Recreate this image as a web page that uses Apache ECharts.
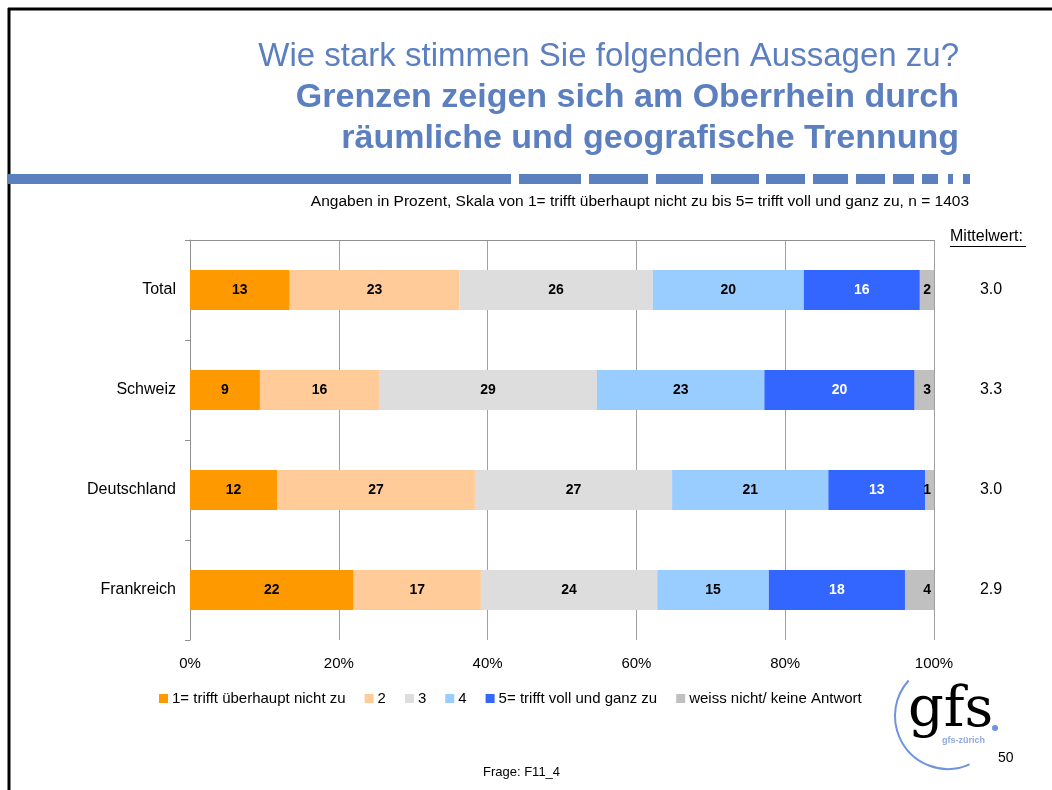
<!DOCTYPE html>
<html>
<head>
<meta charset="utf-8">
<script src="https://cdn.jsdelivr.net/npm/echarts@6/dist/echarts.min.js"></script>
<style>
  html, body { margin: 0; padding: 0; background: #fff; }
  #chart { width: 1052px; height: 790px; }
</style>
</head>
<body>
<div id="chart"></div>
<script>
// Daten
const laender = ["Total", "Schweiz", "Deutschland", "Frankreich"]
const stufen = ["1= trifft überhaupt nicht zu", "2", "3", "4", "5= trifft voll und ganz zu", "weiss nicht/ keine Antwort"]
const wert1 = [13.4, 9.4, 11.7, 22.0]
const wert2 = [22.8, 16.0, 26.6, 17.1]
const wert3 = [26.0, 29.3, 26.5, 23.7]
const wert4 = [20.3, 22.5, 21.0, 15.0]
const wert5 = [15.6, 20.2, 13.0, 18.3]
const weissNicht = [1.9, 2.6, 1.2, 3.9]
const mittelwert = ["3.0", "3.3", "3.0", "2.9"]
const xTicks = [0, 20, 40, 60, 80, 100]

const farben = ["#FF9900", "#FFCC99", "#DDDDDD", "#99CCFF", "#3366FF", "#C0C0C0"]
const werte = [wert1, wert2, wert3, wert4, wert5, weissNicht]

var myChart = echarts.init(document.getElementById("chart"))

const titelFarbe = "#5B7FBF"
const schrift = '"Liberation Sans", Arial, sans-serif'

// gestrichelte Linie unter dem Titel
const striche = [[8, 511], [519, 581], [589, 648], [656, 703], [711, 759], [766, 805], [813, 848], [856, 885], [893, 914], [922, 938], [948, 953], [963, 970]]
const strichGrafik = striche.map((s) => ({
  type: "rect",
  shape: { x: s[0], y: 174, width: s[1] - s[0], height: 10 },
  style: { fill: titelFarbe }
}))

let option = {
  animation: false,
  textStyle: { fontFamily: schrift },
  grid: { left: 190, right: 118, top: 240, bottom: 150 },
  legend: {
    left: 154,
    top: 686,
    itemWidth: 9,
    itemHeight: 9,
    itemGap: 19,
    icon: "rect",
    textStyle: { fontSize: 15, color: "#000", padding: [0, 0, 0, -1] },
    data: stufen
  },
  xAxis: [
    {
      type: "value",
      min: 0,
      max: 100,
      interval: 20,
      position: "bottom",
      axisLine: { show: false },
      axisTick: { show: false },
      splitLine: { show: true, lineStyle: { color: "#A0A0A0", width: 1 } },
      axisLabel: {
        fontSize: 15,
        color: "#000",
        margin: 16,
        formatter: (v) => (xTicks.includes(v) ? v + "%" : "")
      }
    },
    {
      type: "value",
      min: 0,
      max: 100,
      position: "top",
      axisLine: { show: true, onZero: false, lineStyle: { color: "#909090" } },
      axisTick: { show: false },
      axisLabel: { show: false },
      splitLine: { show: false }
    }
  ],
  yAxis: [
    {
      type: "category",
      data: laender,
      inverse: true,
      axisLine: { show: true, lineStyle: { color: "#909090" } },
      axisTick: { show: true, length: 5, lineStyle: { color: "#909090" } },
      axisLabel: { fontSize: 16, color: "#000", margin: 14 }
    },
    {
      type: "category",
      data: mittelwert,
      inverse: true,
      position: "right",
      axisLine: { show: false },
      axisTick: { show: false },
      axisLabel: { fontSize: 16, color: "#000", margin: 57, align: "center" }
    }
  ],
  series: stufen.map((name, i) => ({
    name: name,
    type: "bar",
    stack: "total",
    barWidth: 40,
    data: werte[i],
    itemStyle: { color: farben[i] },
    label: {
      show: true,
      position: i === 5 ? "insideRight" : "inside",
      offset: i === 5 ? [2, 0] : [0, 0],
      fontSize: 14,
      fontWeight: "bold",
      color: i === 4 ? "#fff" : "#000",
      formatter: (p) => Math.round(p.value)
    }
  })),
  graphic: [
    // Rahmen
    { type: "line", shape: { x1: 8, y1: 9, x2: 1052, y2: 9 }, style: { stroke: "#000", lineWidth: 3 } },
    { type: "line", shape: { x1: 9, y1: 8, x2: 9, y2: 790 }, style: { stroke: "#000", lineWidth: 3 } },
    // Titel
    {
      type: "text", right: 1052 - 959, top: 40,
      style: { text: "Wie stark stimmen Sie folgenden Aussagen zu?", font: "33px " + schrift, fill: titelFarbe, textAlign: "right" }
    },
    {
      type: "text", right: 1052 - 959, top: 81,
      style: { text: "Grenzen zeigen sich am Oberrhein durch", font: "bold 34px " + schrift, fill: titelFarbe, textAlign: "right" }
    },
    {
      type: "text", right: 1052 - 959, top: 122,
      style: { text: "räumliche und geografische Trennung", font: "bold 34px " + schrift, fill: titelFarbe, textAlign: "right" }
    },
    ...strichGrafik,
    {
      type: "text", right: 1052 - 969, top: 194,
      style: { text: "Angaben in Prozent, Skala von 1= trifft überhaupt nicht zu bis 5= trifft voll und ganz zu, n = 1403", font: "15.5px " + schrift, fill: "#000" }
    },
    {
      type: "text", left: 950, top: 229,
      style: { text: "Mittelwert:", font: "16px " + schrift, fill: "#000" }
    },
    { type: "line", shape: { x1: 950, y1: 246.5, x2: 1026, y2: 246.5 }, style: { stroke: "#000", lineWidth: 1 } },
    // Fusszeile
    {
      type: "text", left: 483, top: 766,
      style: { text: "Frage: F11_4", font: "13px " + schrift, fill: "#000" }
    },
    {
      type: "text", left: 998, top: 751,
      style: { text: "50", font: "14px " + schrift, fill: "#000" }
    },
    // Logo
    {
      type: "arc",
      shape: { cx: 948, cy: 716, r: 53, startAngle: 66 * Math.PI / 180, endAngle: 222 * Math.PI / 180, clockwise: true },
      style: { stroke: "#6F93DC", lineWidth: 2, fill: null }
    },
    {
      type: "text", left: 908, top: 683,
      style: { text: "gfs", font: '56px "DejaVu Serif", "Liberation Serif", serif', fill: "#000" }
    },
    { type: "circle", shape: { cx: 995, cy: 728, r: 3 }, style: { fill: "#6F93DC" } },
    {
      type: "text", left: 942, top: 736,
      style: { text: "gfs-zürich", font: "bold 9px " + schrift, fill: "#8FA9E0" }
    }
  ]
}

myChart.setOption(option)
window.onresize = () => {
  myChart.resize()
}
</script>
</body>
</html>
